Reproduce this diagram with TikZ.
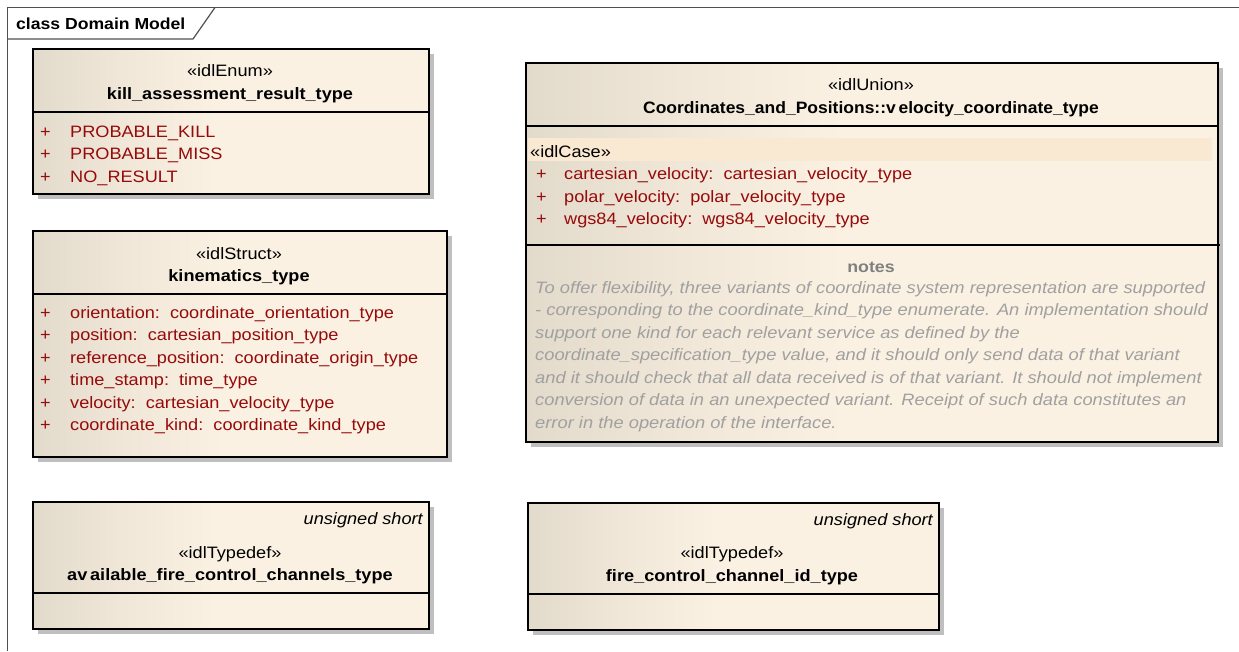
\documentclass[tikz,border=0pt]{standalone}
\usepackage{fontspec}
\setmainfont{Liberation Sans}[FakeStretch=1.1]
\newfontfamily\notefont{Liberation Sans}[FakeStretch=1.11]
\newfontfamily\narrowfont{Liberation Sans}[FakeStretch=1.06]
\usetikzlibrary{shadows}
\definecolor{eared}{RGB}{150,10,10}
\definecolor{fillL}{RGB}{226,218,203}
\definecolor{fillR}{RGB}{251,241,227}
\definecolor{caseband}{RGB}{249,232,210}
\definecolor{notegray}{RGB}{160,160,160}
\definecolor{framegray}{RGB}{80,80,80}
\pgfdeclarehorizontalshading{umlgrad}{100bp}{color(0bp)=(fillL); color(25bp)=(fillL); color(36bp)=(fillR!55!fillL); color(48bp)=(fillR); color(100bp)=(fillR)}
\tikzset{
  umlbox/.style={draw=black, line width=1.6pt, anchor=north west, inner sep=0pt,
    shading=umlgrad, shading angle=0,
    drop shadow={shadow xshift=5pt, shadow yshift=-5pt, fill=black!25, opacity=1}},
  div/.style={draw=black, line width=1.5pt},
  txt/.style={inner sep=0pt, font=\fontsize{16.5}{18}\selectfont},
  stereo/.style={txt, anchor=base},
  cname/.style={txt, anchor=base, font=\fontsize{16.5}{18}\selectfont\bfseries},
  plus/.style={txt, anchor=base west, text=eared},
  attr/.style={txt, anchor=base west, text=eared},
  note/.style={inner sep=0pt, anchor=base west, text=notegray, font=\fontsize{16.5}{18}\notefont\itshape},
  tag/.style={txt, anchor=base east, font=\fontsize{16.5}{18}\selectfont\itshape}
}
\begin{document}
\begin{tikzpicture}[x=1pt,y=-1pt]
\useasboundingbox (0,0) rectangle (1239,651);
% frame
\draw[framegray, line width=1.2pt] (7.5,651) -- (7.5,7.5) -- (1239,7.5);
\draw[framegray, line width=1.2pt] (7.5,39) -- (193,39) -- (215,7.5);
\node[inner sep=0pt, anchor=base west, font=\fontsize{16}{18}\selectfont\bfseries] (title) at (16,29) {class Domain Model};

% kill_assessment_result_type
\node[umlbox, minimum width=396pt, minimum height=145pt] (kill) at (32,48) {};
\draw[div] (32,112) -- (428,112);
\node[stereo] (killst) at (230,76) {«idlEnum»};
\node[cname] (killnm) at (230,99) {kill\_assessment\_result\_type};
\node[plus] (kp1) at (40,137) {+};
\node[attr] (ka1) at (70,137) {PROBABLE\_KILL};
\node[plus] (kp2) at (40,159.5) {+};
\node[attr] (ka2) at (70,159.5) {PROBABLE\_MISS};
\node[plus] (kp3) at (40,182) {+};
\node[attr] (ka3) at (70,182) {NO\_RESULT};

% kinematics_type
\node[umlbox, minimum width=414pt, minimum height=226pt] (kin) at (32,230) {};
\draw[div] (32,294) -- (446,294);
\node[stereo] (kinst) at (239,259) {«idlStruct»};
\node[cname] (kinnm) at (239,281) {kinematics\_type};
\foreach \i/\t [count=\n] in {
  318/{orientation:\ \ coordinate\_orientation\_type},
  340.5/{position:\ \ cartesian\_position\_type},
  363/{reference\_position:\ \ coordinate\_origin\_type},
  385.5/{time\_stamp:\ \ time\_type},
  408/{velocity:\ \ cartesian\_velocity\_type},
  430.5/{coordinate\_kind:\ \ coordinate\_kind\_type}}{
  \node[plus] (kinp\n) at (40,\i) {+};
  \node[attr] (kina\n) at (70,\i) {\t};
}

% union
\node[umlbox, minimum width=692pt, minimum height=379pt] (uni) at (525,62) {};
\draw[div] (525,126) -- (1217,126);
\fill[caseband] (528,138) rectangle (1212,161);
\node[stereo] (unist) at (871,90) {«idlUnion»};
\node[cname, font=\fontsize{16.5}{18}\narrowfont\bfseries] (uninm) at (871,113) {Coordinates\_and\_Positions::v\,elocity\_coordinate\_type};
\node[txt, anchor=base west] (case) at (530,157) {«idlCase»};
\node[plus] (up1) at (536,179.5) {+};
\node[attr] (ua1) at (564,179.5) {cartesian\_velocity:\ \ cartesian\_velocity\_type};
\node[plus] (up2) at (536,202) {+};
\node[attr] (ua2) at (564,202) {polar\_velocity:\ \ polar\_velocity\_type};
\node[plus] (up3) at (536,224.5) {+};
\node[attr] (ua3) at (564,224.5) {wgs84\_velocity:\ \ wgs84\_velocity\_type};
\draw[div] (525,245) -- (1220,245);
\node[txt, anchor=base, text=black!50, font=\fontsize{16}{18}\notefont\bfseries] (notes) at (871,272) {notes};
\begin{scope}
\clip (527,250) rectangle (1210,440);
\node[note] (n1) at (535,293) {To offer flexibility, three variants of coordinate system representation are supported};
\node[note] (n2) at (535,315.5) {- corresponding to the coordinate\_kind\_type enumerate. An implementation should};
\node[note] (n3) at (535,338) {support one kind for each relevant service as defined by the};
\node[note] (n4) at (535,360.5) {coordinate\_specification\_type value, and it should only send data of that variant};
\node[note] (n5) at (535,383) {and it should check that all data received is of that variant. It should not implement};
\node[note] (n6) at (535,405.5) {conversion of data in an unexpected variant. Receipt of such data constitutes an};
\node[note] (n7) at (535,428) {error in the operation of the interface.};
\end{scope}

% available_fire_control_channels_type
\node[umlbox, minimum width=396pt, minimum height=127pt] (avail) at (32,501) {};
\draw[div] (32,593) -- (428,593);
\node[tag] (avtag) at (423,524) {unsigned short};
\node[stereo] (avst) at (230,558) {«idlTypedef»};
\node[cname] (avnm) at (230,580) {av\,ailable\_fire\_control\_channels\_type};

% fire_control_channel_id_type
\node[umlbox, minimum width=411pt, minimum height=127pt] (fcc) at (527,502) {};
\draw[div] (527,594) -- (938,594);
\node[tag] (fctag) at (933,525) {unsigned short};
\node[stereo] (fcst) at (732,558) {«idlTypedef»};
\node[cname] (fcnm) at (732,581) {fire\_control\_channel\_id\_type};
\end{tikzpicture}
\end{document}
